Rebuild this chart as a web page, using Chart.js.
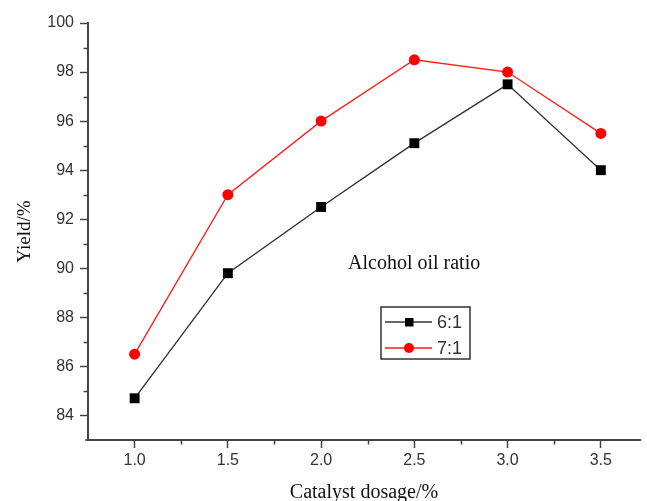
<!DOCTYPE html>
<html lang="en">
<head>
<meta charset="UTF-8" />
<title>Yield vs catalyst dosage</title>
<script src="https://cdn.jsdelivr.net/npm/chart.js"></script>
<style>
  body { margin: 0; background: #fff; }
  .chart-box { width: 647px; height: 501px; }
</style>
</head>
<body>
<div class="chart-box"><canvas id="yieldChart"></canvas></div>
<script>
  // values
  const dosage = [1.0, 1.5, 2.0, 2.5, 3.0, 3.5];
  const yield61 = [84.7, 89.8, 92.5, 95.1, 97.5, 94.0];
  const yield71 = [86.5, 93.0, 96.0, 98.5, 98.0, 95.5];
  const seriesNames = ["6:1", "7:1"];
  const legendTitle = "Alcohol oil ratio";

  const xTicks = [1.0, 1.5, 2.0, 2.5, 3.0, 3.5];
  const xMinorTicks = [1.25, 1.75, 2.25, 2.75, 3.25];
  const yTicks = [84, 86, 88, 90, 92, 94, 96, 98, 100];
  const yMinorTicks = [85, 87, 89, 91, 93, 95, 97, 99];

  const axisColor = "#444";
  const sans = "'Liberation Sans', Arial, sans-serif";
  const serif = "'Liberation Serif', 'Times New Roman', serif";

  const toPoints = (ys) => dosage.map((d, i) => ({ x: d, y: ys[i] }));

  // minor ticks, the floating title and the boxed legend
  const overlay = {
    id: "overlay",
    afterDraw(chart) {
      const ctx = chart.ctx;
      const xs = chart.scales.x;
      const ys = chart.scales.y;
      const area = chart.chartArea;
      ctx.save();
      ctx.strokeStyle = axisColor;
      ctx.lineWidth = 1.5;
      ctx.beginPath();
      xMinorTicks.forEach((v) => {
        const px = Math.round(xs.getPixelForValue(v)) + 0.5;
        ctx.moveTo(px, area.bottom);
        ctx.lineTo(px, area.bottom + 4.5);
      });
      yMinorTicks.forEach((v) => {
        const py = Math.round(ys.getPixelForValue(v)) + 0.5;
        ctx.moveTo(area.left, py);
        ctx.lineTo(area.left - 4.5, py);
      });
      // axis line runs a little past the y axis, as in the figure
      ctx.moveTo(area.left - 3, area.bottom);
      ctx.lineTo(area.left, area.bottom);
      ctx.stroke();

      ctx.fillStyle = "#111";
      ctx.font = "20px " + serif;
      ctx.textBaseline = "alphabetic";
      ctx.textAlign = "left";
      ctx.fillText(legendTitle, 348, 269);

      // legend box
      ctx.strokeStyle = "#333";
      ctx.lineWidth = 1.5;
      ctx.strokeRect(381, 307, 89, 52);
      const rows = [322, 348];
      chart.data.datasets.forEach((ds, i) => {
        const ry = rows[i];
        ctx.strokeStyle = ds.borderColor;
        ctx.lineWidth = 1.3;
        ctx.beginPath();
        ctx.moveTo(385, ry);
        ctx.lineTo(432, ry);
        ctx.stroke();
        ctx.fillStyle = ds.pointBackgroundColor;
        if (ds.pointStyle === "rect") {
          ctx.fillRect(405, ry - 4, 8.5, 8.5);
        } else {
          ctx.beginPath();
          ctx.arc(409, ry, 5, 0, Math.PI * 2);
          ctx.fill();
        }
        ctx.fillStyle = "#333";
        ctx.font = "18px " + sans;
        ctx.textBaseline = "middle";
        ctx.fillText(ds.label, 437, ry + 1);
      });
      ctx.restore();
    },
  };

  const ctx = document.getElementById("yieldChart").getContext("2d");
  new Chart(ctx, {
    type: "line",
    data: {
      datasets: [
        {
          label: seriesNames[0],
          data: toPoints(yield61),
          borderColor: "#333",
          borderWidth: 1.4,
          pointStyle: "rect",
          pointRadius: 7,
          pointBackgroundColor: "#000",
          pointBorderColor: "#000",
          pointBorderWidth: 0,
          tension: 0,
        },
        {
          label: seriesNames[1],
          data: toPoints(yield71),
          borderColor: "#ff1a1a",
          borderWidth: 1.3,
          pointStyle: "circle",
          pointRadius: 5.5,
          pointBackgroundColor: "#ff0000",
          pointBorderColor: "#ff0000",
          pointBorderWidth: 0,
          tension: 0,
        },
      ],
    },
    options: {
      responsive: true,
      maintainAspectRatio: false,
      animation: false,
      layout: { padding: { top: 23, right: 0, left: 0, bottom: 0 } },
      plugins: {
        legend: { display: false },
        tooltip: { enabled: false },
      },
      scales: {
        x: {
          type: "linear",
          bounds: "data",
          min: 0.75,
          max: 3.71,
          afterBuildTicks: (scale) => {
            scale.ticks = xTicks.map((v) => ({ value: v }));
          },
          afterFit: (scale) => {
            scale.height = 61;
            scale.paddingLeft = 0;
            scale.paddingRight = 0;
          },
          ticks: {
            padding: 3,
            color: "#333",
            font: { family: sans, size: 16 },
            callback: (value) => Number(value).toFixed(1),
          },
          grid: {
            drawOnChartArea: false,
            drawTicks: true,
            tickLength: 8,
            tickColor: axisColor,
            tickWidth: 1.5,
          },
          border: { color: axisColor, width: 2 },
          title: {
            display: true,
            text: "Catalyst dosage/%",
            color: "#111",
            font: { family: serif, size: 20, lineHeight: 0.8 },
            padding: { top: 0, bottom: 0 },
          },
        },
        y: {
          bounds: "data",
          min: 83,
          max: 100,
          afterBuildTicks: (scale) => {
            scale.ticks = yTicks.map((v) => ({ value: v }));
          },
          afterFit: (scale) => {
            scale.width = 88;
          },
          ticks: {
            padding: 6,
            color: "#333",
            font: { family: sans, size: 16 },
            callback: (value) => String(value),
          },
          grid: {
            drawOnChartArea: false,
            drawTicks: true,
            tickLength: 8,
            tickColor: axisColor,
            tickWidth: 1.5,
          },
          border: { color: axisColor, width: 2 },
          title: {
            display: true,
            text: "Yield/%",
            color: "#111",
            font: { family: serif, size: 19 },
            padding: { top: 14, bottom: 0 },
          },
        },
      },
    },
    plugins: [overlay],
  });
</script>
</body>
</html>
